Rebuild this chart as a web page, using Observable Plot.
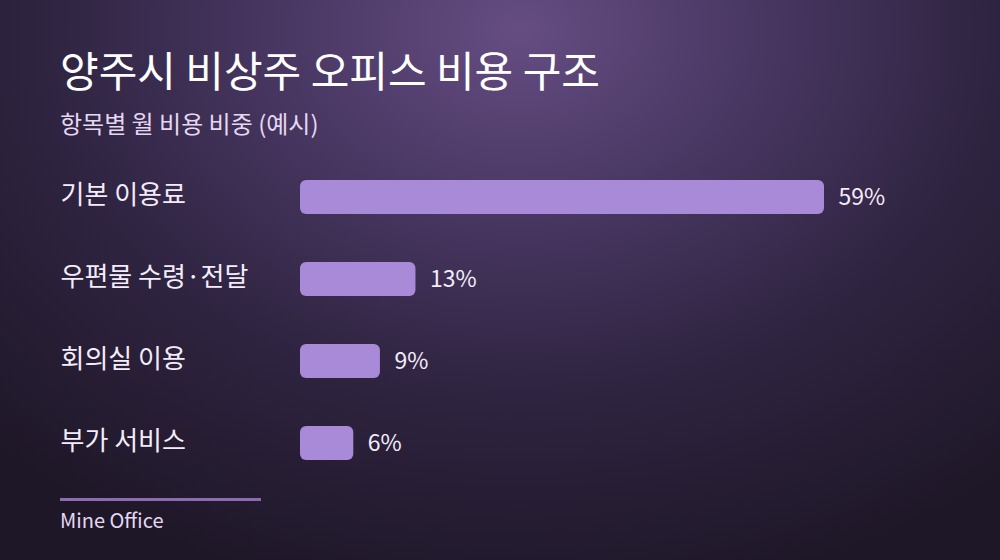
<!DOCTYPE html>
<html><head><meta charset="utf-8">
<script src="https://cdn.jsdelivr.net/npm/d3@7"></script>
<script src="https://cdn.jsdelivr.net/npm/@observablehq/plot@0.6"></script>
<style>
html,body{margin:0;padding:0;background:#1c1520;}
#wrap{position:relative;width:1000px;height:560px;overflow:hidden;
  font-family:"Noto Sans CJK KR","Noto Sans",sans-serif;
  background:radial-gradient(ellipse 760px 580px at 520px 30px,#654d82 0%,#4a3864 30%,#2f2441 62%,#1e1727 100%);}
#title{position:absolute;left:60px;top:48px;margin:0;font-size:42px;font-weight:400;color:#ffffff;line-height:1;white-space:nowrap;letter-spacing:0}
#sub{position:absolute;left:60px;top:111px;margin:0;font-size:24px;font-weight:400;color:#e6d8f2;line-height:1;white-space:nowrap}
#chart{position:absolute;left:0;top:0}
#rule{position:absolute;left:60px;top:498px;width:201px;height:3px;background:#8c6bb0}
#src{position:absolute;left:60px;top:510px;font-size:20px;color:#e6d8f2;line-height:1;white-space:nowrap}
</style></head>
<body>
<div id="wrap">
  <div id="chart"></div>
  <div id="title">양주시 비상주 오피스 비용 구조</div>
  <div id="sub">항목별 월 비용 비중 (예시)</div>
  <div id="rule"></div>
  <div id="src">Mine Office</div>
</div>
<script>
const categories = ["기본 이용료", "우편물 수령·전달", "회의실 이용", "부가 서비스"];
const values = [59, 13, 9, 6];
const valueLabels = ["59%", "13%", "9%", "6%"];

const rows = categories.map((c, i) => ({category: c, value: values[i], label: valueLabels[i]}));

const chart = Plot.plot({
  width: 1000,
  height: 560,
  marginLeft: 300,
  marginRight: 176,
  marginTop: 0,
  marginBottom: 0,
  style: {background: "transparent", fontFamily: '"Noto Sans CJK KR","Noto Sans",sans-serif', overflow: "visible"},
  x: {domain: [0, 59], axis: null},
  y: {domain: categories, range: [156, 484], paddingInner: 0.585, paddingOuter: 0.2925, axis: null},
  marks: [
    Plot.barX(rows, {x: "value", y: "category", fill: "#a98ad8", rx: 6}),
    Plot.text(rows, {x: "value", y: "category", text: "label", dx: 14, textAnchor: "start", fill: "#f4ecfa", fontSize: 23}),
    Plot.text(rows, {y: "category", text: "category", frameAnchor: "left", dx: -240, dy: -2, textAnchor: "start", fill: "#f4ecfa", fontSize: 26})
  ]
});
document.getElementById("chart").appendChild(chart);
</script>
</body></html>
